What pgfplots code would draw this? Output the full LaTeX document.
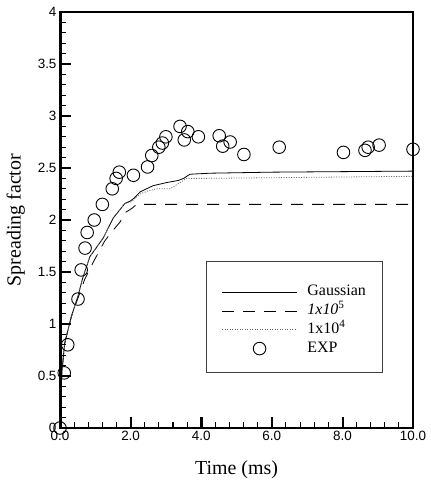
\documentclass[border=0pt]{standalone}
\usepackage{fontspec}
\setmainfont{Liberation Serif}
\newfontfamily\ticksf{Liberation Sans}
\usepackage{pgfplots}
\usepackage{pgfplotstable}
\pgfplotsset{compat=1.18}
\pgfplotsset{
    longline/.style={legend image code/.code={\draw[##1] (0bp,0bp) -- (75bp,0bp);}},
    onemark/.style={legend image code/.code={\draw[##1] plot coordinates {(37.5bp,0bp)};}},
}

\pgfplotstableread{
x y
0.00 0.00
0.12 0.53
0.22 0.80
0.51 1.24
0.60 1.52
0.71 1.73
0.77 1.88
0.97 2.00
1.20 2.15
1.48 2.30
1.59 2.40
1.68 2.46
2.08 2.43
2.48 2.51
2.60 2.62
2.80 2.70
2.90 2.74
3.00 2.80
3.40 2.90
3.52 2.77
3.62 2.85
3.92 2.80
4.51 2.81
4.61 2.71
4.82 2.75
5.21 2.63
6.21 2.70
8.03 2.65
8.64 2.67
8.73 2.70
9.04 2.72
10.00 2.68
}\expdata

\begin{document}
\begin{tikzpicture}
\begin{axis}[
    scale only axis,
    width=353bp, height=416bp,
    xmin=0, xmax=10, ymin=0, ymax=4,
    xtick={0,2,4,6,8,10}, ytick={0,0.5,1,1.5,2,2.5,3,3.5,4},
    xticklabels={0.0,2.0,4.0,6.0,8.0,10.0},
    yticklabels={0,0.5,1,1.5,2,2.5,3,3.5,4},
    minor x tick num=4, minor y tick num=4,
    xtick pos=left, ytick pos=left,
    tick align=inside,
    major tick length=11bp, minor tick length=6bp,
    tick style={black, line width=1.8bp},
    minor tick style={black, line width=1bp},
    axis line style={black, line width=1.8bp},
    ticklabel style={font=\ticksf\fontsize{13.5}{15}\selectfont},
    xlabel={Time (ms)}, ylabel={Spreading factor},
    every axis x label/.style={at={(axis description cs:0.5,-0.101)}, anchor=center,
        font=\fontsize{20}{24}\selectfont},
    every axis y label/.style={at={(axis description cs:-0.125,0.5)}, anchor=center, rotate=90,
        font=\fontsize{20}{24}\selectfont},
    clip mode=individual,
    legend style={at={(axis cs:4.58,1.378)}, anchor=north west, draw=none, fill=none,
        inner sep=0pt, outer sep=0pt, row sep=3.8bp, column sep=10bp,
        font=\fontsize{16}{18}\selectfont,
        nodes={inner sep=0pt, text height=11bp, text depth=4bp}},
    legend cell align=left,
]
\addplot[black, line width=0.8bp, longline]
coordinates {
(0,0)(0.02,0.35)(0.06,0.56)(0.13,0.81)(0.32,1.07)(0.51,1.27)(0.65,1.45)
(0.85,1.65)(1.0,1.72)(1.23,1.83)(1.36,1.92)(1.51,2.02)(1.7,2.10)(1.84,2.16)
(1.98,2.18)(2.1,2.21)(2.27,2.27)(2.45,2.30)(2.64,2.33)(3.02,2.36)(3.35,2.38)
(3.5,2.40)(3.68,2.44)(4.25,2.45)(6,2.46)(10,2.47)
};
\addlegendentry{Gaussian}
\addplot[black, line width=0.8bp, dash pattern=on 12bp off 9bp, longline]
coordinates {
(0,0)(0.02,0.35)(0.06,0.56)(0.13,0.81)(0.32,1.07)(0.51,1.25)(0.7,1.43)
(0.95,1.60)(1.27,1.80)(1.5,1.90)(1.7,1.98)(1.84,2.07)(2.03,2.11)(2.17,2.15)(10,2.15)
};
\addlegendentry{\textit{1x10}\textsuperscript{5}}
\addplot[black!60, line width=0.8bp, dash pattern=on 1bp off 1.5bp, longline]
coordinates {
(0,0)(0.02,0.35)(0.06,0.56)(0.13,0.81)(0.32,1.07)(0.51,1.27)(0.65,1.45)
(0.85,1.65)(1.0,1.72)(1.23,1.83)(1.36,1.92)(1.51,2.02)(1.7,2.10)(1.84,2.16)
(2.0,2.17)(2.27,2.25)(2.5,2.28)(2.74,2.30)(3.12,2.30)(3.4,2.36)(3.59,2.40)
(4.05,2.40)(7,2.41)(10,2.42)
};
\addlegendentry{1x10\textsuperscript{4}}
\addplot[only marks, mark=o, mark size=6.3bp, black, mark options={line width=0.9bp}, onemark]
table[x=x, y=y] {\expdata};
\addlegendentry{EXP}
\draw[black!75, line width=0.7bp] (axis cs:4.16,1.6) rectangle (axis cs:9.12,0.538);
% frame and inward ticks drawn again by hand, after the plots
\draw[black, line width=0.9bp] (axis cs:0,4) -- (axis cs:0,0) -- (axis cs:10,0) -- (axis cs:10,4) -- cycle;
\draw[black, line width=0.9bp] (axis cs:0.03,4) -- (axis cs:0.03,0.01) -- (axis cs:10,0.01);
\draw[black, line width=0.9bp] (axis cs:0,3.995) -- (axis cs:10,3.995);
\draw[black, line width=0.9bp] (axis cs:9.985,4) -- (axis cs:9.985,0);
\pgfplotsinvokeforeach{0.4,0.8,1.2,1.6,2.4,2.8,3.2,3.6,4.4,4.8,5.2,5.6,6.4,6.8,7.2,7.6,8.4,8.8,9.2,9.6}{
    \draw[black, line width=0.9bp] (axis cs:#1,0) -- (axis cs:#1,0.058);}
\pgfplotsinvokeforeach{2,4,6,8}{
    \draw[black, line width=0.9bp] (axis cs:#1,0) -- (axis cs:#1,0.106);
    \draw[black, line width=0.9bp] (axis cs:#1+0.025,0) -- (axis cs:#1+0.025,0.106);}
\pgfplotsinvokeforeach{0.1,0.2,0.3,0.4,0.6,0.7,0.8,0.9,1.1,1.2,1.3,1.4,1.6,1.7,1.8,1.9,2.1,2.2,2.3,2.4,2.6,2.7,2.8,2.9,3.1,3.2,3.3,3.4,3.6,3.7,3.8,3.9}{
    \draw[black, line width=0.9bp] (axis cs:0,#1) -- (axis cs:0.17,#1);}
\pgfplotsinvokeforeach{0.5,1,1.5,2,2.5,3,3.5}{
    \draw[black, line width=0.9bp] (axis cs:0,#1) -- (axis cs:0.312,#1);
    \draw[black, line width=0.9bp] (axis cs:0,#1+0.008) -- (axis cs:0.312,#1+0.008);}
\end{axis}
\path (-60bp,-56bp) rectangle (371bp,428bp);
\end{tikzpicture}
\end{document}
